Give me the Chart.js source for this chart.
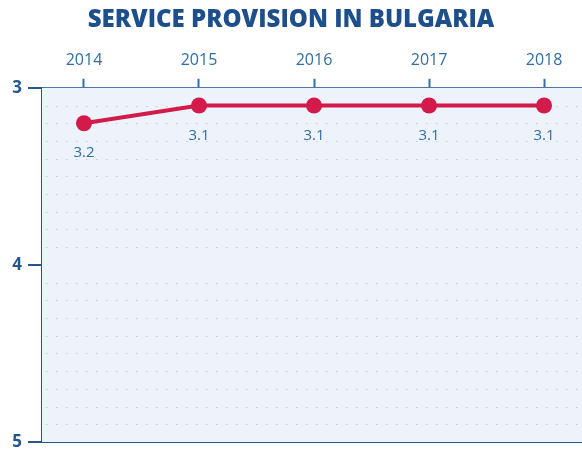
<!DOCTYPE html>
<html>
<head>
<meta charset="utf-8">
<script src="https://cdn.jsdelivr.net/npm/chart.js@4/dist/chart.umd.min.js"></script>
<style>
  html, body { margin: 0; padding: 0; background: #fff; }
  #wrap { width: 582px; height: 450px; }
</style>
</head>
<body>
<div id="wrap"><canvas id="chart"></canvas></div>
<script>
// data
const years = [2014, 2015, 2016, 2017, 2018];
const scores = [3.2, 3.1, 3.1, 3.1, 3.1];
const yTicks = [3, 4, 5];
const titleText = 'SERVICE PROVISION IN BULGARIA';

const darkBlue = '#23578f';
const midBlue = '#2f6ea6';
const red = '#d21a4b';

// plot background + dotted minor grid
const backdrop = {
    id: 'backdrop',
    beforeDatasetsDraw(chart) {
        const { ctx, chartArea: a, scales } = chart;
        ctx.save();
        ctx.fillStyle = '#eef3fb';
        ctx.fillRect(a.left, a.top, a.right - a.left, a.bottom - a.top);
        ctx.strokeStyle = '#bccbdd';
        ctx.lineWidth = 1;
        ctx.setLineDash([1.5, 8.5]);
        for (let i = 1; i < 20; i++) {
            if (i === 10) continue;
            const y = Math.round(scales.y.getPixelForValue(3 + i / 10)) + 0.5;
            ctx.beginPath();
            ctx.moveTo(a.left + 4, y);
            ctx.lineTo(a.right, y);
            ctx.stroke();
        }
        ctx.restore();
    }
};

// value labels under points
const valueLabels = {
    id: 'valueLabels',
    afterDatasetsDraw(chart) {
        const { ctx } = chart;
        const meta = chart.getDatasetMeta(0);
        ctx.save();
        ctx.fillStyle = midBlue;
        ctx.font = '15px "Open Sans"';
        ctx.textAlign = 'center';
        ctx.textBaseline = 'middle';
        meta.data.forEach((pt, i) => {
            ctx.fillText(String(scores[i]), pt.x, pt.y + 30);
        });
        ctx.restore();
    }
};

new Chart(document.getElementById('chart'), {
    type: 'line',
    data: {
        datasets: [{
            data: years.map((y, i) => ({ x: y, y: scores[i] })),
            borderColor: red,
            backgroundColor: red,
            borderWidth: 4,
            pointRadius: 8,
            pointHoverRadius: 8,
            pointBorderWidth: 0,
            tension: 0
        }]
    },
    options: {
        responsive: true,
        maintainAspectRatio: false,
        animation: false,
        layout: { autoPadding: false, padding: { top: 0, right: 0, bottom: 8, left: 0 } },
        plugins: {
            legend: { display: false },
            tooltip: { enabled: false },
            title: {
                display: true,
                text: titleText,
                color: '#1d4f8b',
                font: { family: '"Open Sans"', size: 24, weight: 800 },
                padding: { top: 6, bottom: 0 }
            }
        },
        scales: {
            x: {
                type: 'linear',
                position: 'top',
                min: 2013.635,
                max: 2018.33,
                afterBuildTicks: s => { s.ticks = years.map(v => ({ value: v })); },
                afterFit: s => { s.height = 53; s.paddingLeft = 0; s.paddingRight = 0; },
                ticks: {
                    color: midBlue,
                    font: { family: '"Open Sans"', size: 16 },
                    padding: 9,
                    callback: v => String(v)
                },
                grid: {
                    drawOnChartArea: false,
                    tickLength: 9,
                    tickColor: midBlue,
                    tickWidth: 2
                },
                border: { color: darkBlue, width: 2 }
            },
            y: {
                type: 'linear',
                reverse: true,
                min: 3,
                max: 5,
                afterBuildTicks: s => { s.ticks = yTicks.map(v => ({ value: v })); },
                afterFit: s => { s.width = 42; s.paddingTop = 0; s.paddingBottom = 0; },
                ticks: {
                    color: darkBlue,
                    font: { family: '"Open Sans"', size: 17, weight: 'bold' },
                    padding: 6,
                    callback: v => String(v)
                },
                grid: {
                    color: ctx => ctx.tick && ctx.tick.value === 4 ? '#a6c8e6' : darkBlue,
                    lineWidth: 2,
                    tickLength: 14,
                    tickColor: darkBlue,
                    tickWidth: 2
                },
                border: { color: darkBlue, width: 2 }
            }
        }
    },
    plugins: [backdrop, valueLabels]
});
</script>
</body>
</html>
